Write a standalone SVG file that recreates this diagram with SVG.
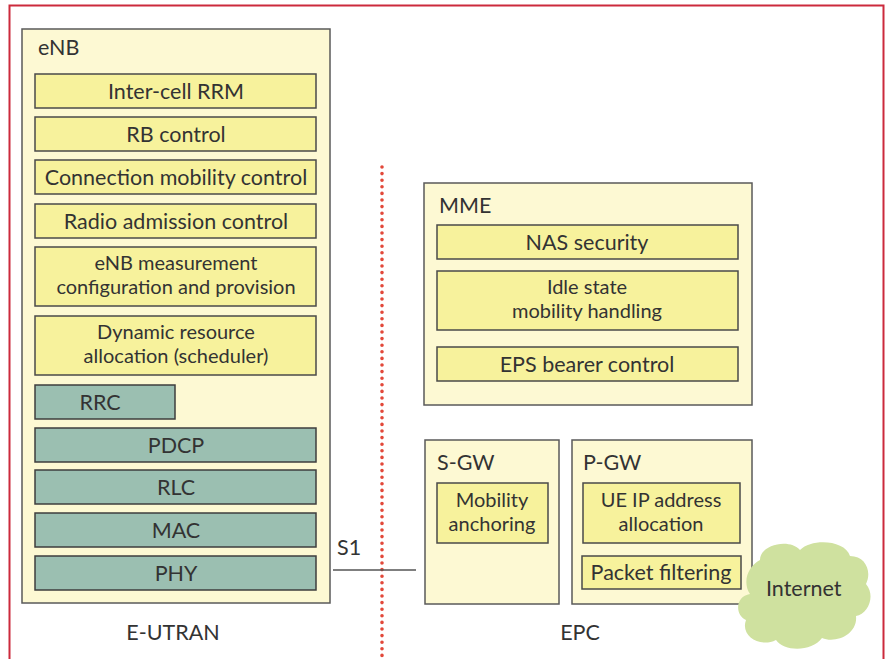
<svg xmlns="http://www.w3.org/2000/svg" width="890" height="659" viewBox="0 0 890 659">
  <style>
    text { font-family: "Lato", "Liberation Sans", sans-serif; font-size: 21.5px; fill: #333333; }
    text.two { font-size: 20px; }
    .mid { text-anchor: middle; }
    .outer { fill: #fdf9d3; stroke: #5a5a5a; stroke-width: 1.5; }
    .func { fill: #f7f29c; stroke: #4a4a4a; stroke-width: 1.5; }
    .proto { fill: #9bbfb1; stroke: #3e3e3e; stroke-width: 1.5; }
  </style>
  <rect width="890" height="659" fill="#ffffff"/>
  <!-- frame -->
  <path d="M9.5,659 V5.5 H883.5 V659" fill="none" stroke="#cc2a3c" stroke-width="2"/>
  <!-- domain separator -->
  <line x1="382" y1="167" x2="382" y2="659" stroke="#e2483a" stroke-width="3.6" stroke-linecap="round" stroke-dasharray="0 6.6"/>

  <g id="enb">
    <rect class="outer" x="22" y="29" width="308" height="574"/>
    <text x="38" y="55">eNB</text>
    <rect class="func" x="35" y="74" width="281" height="34"/>
    <text class="mid" x="176" y="98.5">Inter-cell RRM</text>
    <rect class="func" x="35" y="117" width="281" height="34"/>
    <text class="mid" x="176" y="141.5">RB control</text>
    <rect class="func" x="35" y="160" width="281" height="34"/>
    <text class="mid" x="176" y="184.5">Connection mobility control</text>
    <rect class="func" x="35" y="204" width="281" height="34"/>
    <text class="mid" x="176" y="228.5">Radio admission control</text>
    <rect class="func" x="35" y="247" width="281" height="59"/>
    <text class="mid two" x="176" y="270"><tspan x="176">eNB measurement</tspan><tspan x="176" dy="24">configuration and provision</tspan></text>
    <rect class="func" x="35" y="316" width="281" height="59"/>
    <text class="mid two" x="176" y="339"><tspan x="176">Dynamic resource</tspan><tspan x="176" dy="24">allocation (scheduler)</tspan></text>
    <rect class="proto" x="35" y="385" width="140" height="34"/>
    <text class="mid" x="100" y="409.5">RRC</text>
    <rect class="proto" x="35" y="428" width="281" height="34"/>
    <text class="mid" x="176" y="452.5">PDCP</text>
    <rect class="proto" x="35" y="470" width="281" height="34"/>
    <text class="mid" x="176" y="494.5">RLC</text>
    <rect class="proto" x="35" y="513" width="281" height="34"/>
    <text class="mid" x="176" y="537.5">MAC</text>
    <rect class="proto" x="35" y="556" width="281" height="34"/>
    <text class="mid" x="176" y="580.5">PHY</text>
  </g>

  <g id="mme">
    <rect class="outer" x="424" y="183" width="328" height="222"/>
    <text x="439" y="213">MME</text>
    <rect class="func" x="437" y="225" width="301" height="34"/>
    <text class="mid" x="587" y="249.5">NAS security</text>
    <rect class="func" x="437" y="271" width="301" height="59"/>
    <text class="mid two" x="587" y="294"><tspan x="587">Idle state</tspan><tspan x="587" dy="24">mobility handling</tspan></text>
    <rect class="func" x="437" y="347" width="301" height="34"/>
    <text class="mid" x="587" y="371.5">EPS bearer control</text>
  </g>

  <g id="sgw">
    <rect class="outer" x="425" y="440" width="134" height="164"/>
    <text x="437" y="470">S-GW</text>
    <rect class="func" x="437" y="483" width="111" height="60"/>
    <text class="mid two" x="492" y="507"><tspan x="492">Mobility</tspan><tspan x="492" dy="24">anchoring</tspan></text>
  </g>

  <g id="pgw">
    <rect class="outer" x="572" y="440" width="180" height="164"/>
    <text x="583" y="470">P-GW</text>
    <rect class="func" x="583" y="483" width="157" height="60"/>
    <text class="mid two" x="661" y="507"><tspan x="661">UE IP address</tspan><tspan x="661" dy="24">allocation</tspan></text>
    <rect class="func" x="582" y="556" width="159" height="33"/>
    <text class="mid" x="661" y="580">Packet filtering</text>
  </g>

  <g id="internet">
    <path fill="#cfe19f" d="M760,560 C760,544 790,538 800,550 C812,538 845,540 850,556 C866,556 872,572 866,584 C876,596 868,614 856,616 C858,634 836,644 822,638 C812,652 784,652 776,640 C760,648 740,636 746,620 C734,614 736,596 750,594 C742,582 748,566 760,560 Z"/>
    <text x="766" y="596">Internet</text>
  </g>

  <g id="connectors">
    <line x1="333" y1="570" x2="416" y2="570" stroke="#555555" stroke-width="1.5"/>
    <text x="337" y="555">S1</text>
  </g>

  <text class="mid" x="173" y="640">E-UTRAN</text>
  <text class="mid" x="580" y="640">EPC</text>
</svg>
